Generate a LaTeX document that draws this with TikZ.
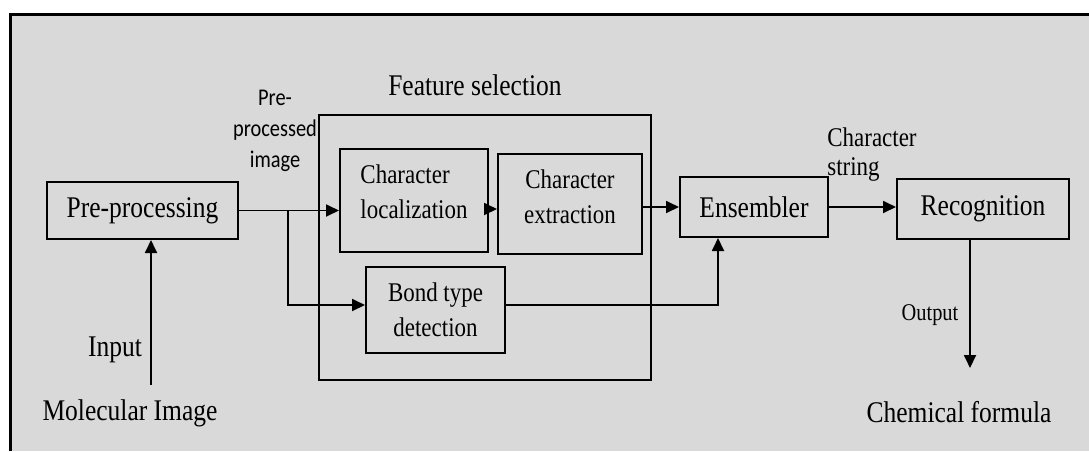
\documentclass[tikz,border=0pt]{standalone}
\usepackage{fontspec}
\setmainfont{Liberation Serif}
\newfontfamily\tnr[FakeStretch=0.85]{Liberation Serif}
\newfontfamily\carl[FakeStretch=0.85]{Carlito}
\usetikzlibrary{arrows.meta}
\definecolor{bg}{RGB}{217,217,217}
\begin{document}
\begin{tikzpicture}[x=1pt,y=-1pt,
 box/.style={draw=black, line width=2pt, inner sep=0pt, align=center},
 big/.style={font=\tnr\fontsize{30}{36}\selectfont},
 small/.style={font=\tnr\fontsize{27}{35}\selectfont},
 arr/.style={line width=1.8pt, -{Triangle[length=13pt,width=12pt]}}]
\useasboundingbox (0,0) rectangle (1089,451);
\fill[white] (0,0) rectangle (1089,451);
\fill[bg] (10,14) rectangle (1089,451);
\draw[line width=3pt] (10,451) -- (10,14) -- (1089,14);

\node[box,big,minimum width=191pt,minimum height=57pt] (pre) at (142.5,210.5) {Pre-processing};
\node[box,minimum width=332pt,minimum height=265pt] (fs) at (485,247.5) {};
\node[box,small,minimum width=148pt,minimum height=103pt,align=left,text depth=17pt] (loc) at (414,200.5) {Character\\localization};
\node[box,small,minimum width=144pt,minimum height=100pt,text depth=14pt] (ext) at (570,204) {Character\\extraction};
\node[box,small,minimum width=139pt,minimum height=86pt] (bond) at (435.5,310) {Bond type\\detection};
\node[box,big,minimum width=148pt,minimum height=60pt] (ens) at (754,207) {Ensembler};
\node[box,big,minimum width=172pt,minimum height=60pt] (rec) at (983,209) {Recognition};

\node[big] (fsl) at (475,85) {Feature selection};
\node[font=\carl\fontsize{24}{31}\selectfont, align=center] (ppl) at (275,131) {Pre-\\processed\\image};
\node[font=\tnr\fontsize{27}{29}\selectfont, align=left] (csl) at (872,155) {Character\\string};
\node[font=\tnr\fontsize{24}{29}\selectfont] (outl) at (930,315) {Output};
\node[big] (inl) at (115,350) {Input};
\node[big] (mol) at (130,413) {Molecular Image};
\node[big] (chem) at (959,412) {Chemical formula};

\coordinate (molsrc) at (151,385);
\draw[arr] (molsrc) -- (molsrc |- pre.south);
\draw[arr] (pre.east) -- (pre.east -| loc.west);
\coordinate (br) at (288,210.5);
\draw[arr] (br) |- ([yshift=5pt]bond.west);
\draw[arr] (loc.east |- 0,209) -- (ext.west |- 0,209);
\draw[arr] (ext.east |- ens.west) -- (ens.west);
\draw[arr] (ens.east) -- (ens.east -| rec.west);
\draw[arr] ([yshift=5pt]bond.east) -| ([xshift=-36pt]ens.south);
\coordinate (outend) at (970,368);
\draw[arr] (outend |- rec.south) -- (outend);
\end{tikzpicture}
\end{document}
